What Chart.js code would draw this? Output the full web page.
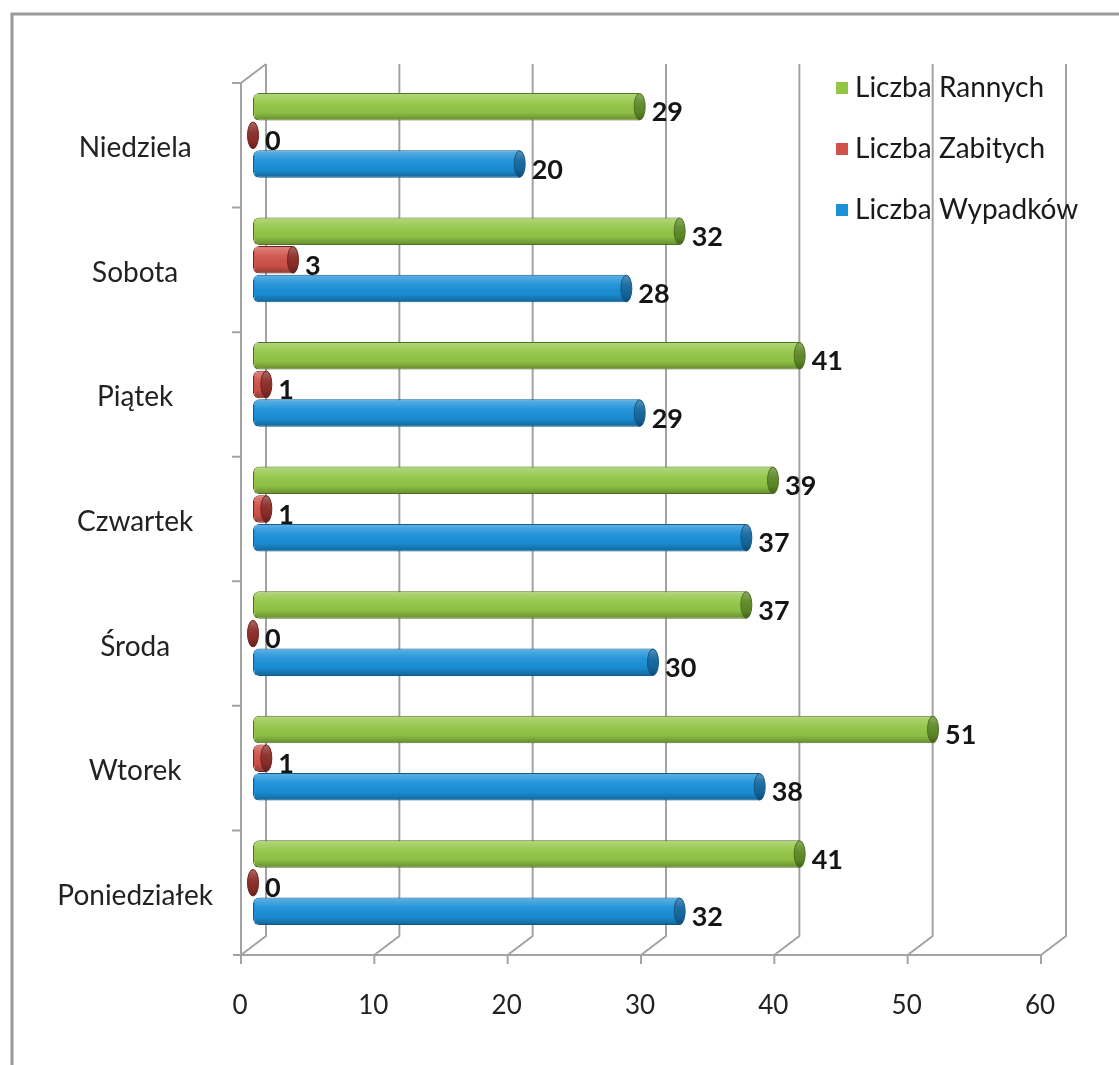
<!DOCTYPE html>
<html>
<head>
<meta charset="utf-8">
<script src="https://cdn.jsdelivr.net/npm/chart.js@4.4.0/dist/chart.umd.min.js"></script>
<style>
  html, body { margin: 0; padding: 0; background: #fff; }
  #wrap { width: 1119px; height: 1065px; }
</style>
</head>
<body>
<div id="wrap"><canvas id="accidents"></canvas></div>
<script>
// days listed top to bottom, as in the picture
const days = ['Niedziela', 'Sobota', 'Piątek', 'Czwartek', 'Środa', 'Wtorek', 'Poniedziałek'];
const ranni = [29, 32, 41, 39, 37, 51, 41];
const zabici = [0, 3, 1, 1, 0, 1, 0];
const wypadki = [20, 28, 29, 37, 30, 38, 32];
const xTicks = [0, 10, 20, 30, 40, 50, 60];

const FONT = 'Lato, "Open Sans", sans-serif';
const palette = [
  { main: '#93c647', dark: '#5e8a26', edge: '#4f6f24' },
  { main: '#d0524a', dark: '#8c2d28', edge: '#6e2420' },
  { main: '#1b90d8', dark: '#14679f', edge: '#125a8a' },
];

// depth offsets of the fake 3D box, relative to the scale pixels
const BACK = { dx: 13, dy: -9 };
const FRONT = { dx: -12, dy: 10 };

const frame = {
  id: 'frame',
  beforeDraw(chart) {
    const ctx = chart.ctx;
    ctx.save();
    ctx.strokeStyle = '#9a9a9a';
    ctx.lineWidth = 3;
    ctx.beginPath();
    ctx.moveTo(12, chart.height);
    ctx.lineTo(12, 14);
    ctx.lineTo(chart.width, 14);
    ctx.stroke();
    ctx.restore();
  },
  beforeDatasetsDraw(chart) {
    const { ctx, chartArea: a, scales: { x, y } } = chart;
    const band = (a.bottom - a.top) / days.length;
    ctx.save();
    ctx.strokeStyle = '#a3a3a3';
    ctx.lineWidth = 2;
    ctx.beginPath();
    xTicks.forEach(v => {
      const px = x.getPixelForValue(v);
      // back wall line
      ctx.moveTo(px + BACK.dx, a.top + BACK.dy);
      ctx.lineTo(px + BACK.dx, a.bottom + BACK.dy);
      // floor diagonal
      ctx.lineTo(px + FRONT.dx, a.bottom + FRONT.dy);
      // tick mark
      ctx.moveTo(px + FRONT.dx, a.bottom + FRONT.dy);
      ctx.lineTo(px + FRONT.dx, a.bottom + FRONT.dy + 9);
    });
    const x0 = x.getPixelForValue(0);
    const x60 = x.getPixelForValue(60);
    // front floor edge
    ctx.moveTo(x0 + FRONT.dx - 8, a.bottom + FRONT.dy);
    ctx.lineTo(x60 + FRONT.dx, a.bottom + FRONT.dy);
    // front left edge with category ticks
    ctx.moveTo(x0 + FRONT.dx, a.bottom + FRONT.dy);
    ctx.lineTo(x0 + FRONT.dx, a.top + FRONT.dy);
    ctx.lineTo(x0 + BACK.dx, a.top + BACK.dy);
    for (let i = 0; i < days.length; i++) {
      const yy = y.getPixelForValue(i) - band / 2 + FRONT.dy;
      ctx.moveTo(x0 + FRONT.dx, yy);
      ctx.lineTo(x0 + FRONT.dx - 9, yy);
    }
    ctx.stroke();
    ctx.restore();
  },
  afterDatasetsDraw(chart) {
    const ctx = chart.ctx;
    ctx.save();
    chart.data.datasets.forEach((ds, di) => {
      const meta = chart.getDatasetMeta(di);
      const col = palette[di];
      meta.data.forEach((el, i) => {
        const h = el.height;
        const top = el.y - h / 2;
        // cylinder shading over the bar body
        const g = ctx.createLinearGradient(0, top, 0, top + h);
        g.addColorStop(0, 'rgba(255,255,255,0.30)');
        g.addColorStop(0.35, 'rgba(255,255,255,0.06)');
        g.addColorStop(0.7, 'rgba(0,0,0,0.03)');
        g.addColorStop(1, 'rgba(0,0,0,0.30)');
        if (el.x - el.base > 1) {
          ctx.fillStyle = g;
          ctx.fillRect(el.base + 2, top + 1, el.x - el.base - 2, h - 2);
        }
        // end cap
        ctx.beginPath();
        ctx.ellipse(el.x, el.y, 5.5, h / 2 - 0.5, 0, 0, Math.PI * 2);
        ctx.fillStyle = col.dark;
        ctx.fill();
        ctx.fillStyle = g;
        ctx.fill();
        ctx.strokeStyle = col.edge;
        ctx.lineWidth = 1;
        ctx.stroke();
        // value label
        ctx.fillStyle = '#151515';
        ctx.font = 'bold 27px ' + FONT;
        ctx.textAlign = 'left';
        ctx.textBaseline = 'middle';
        ctx.fillText(String(ds.data[i]), el.x + 12, el.y + 6);
      });
    });
    ctx.restore();
  },
  afterDraw(chart) {
    const { ctx, chartArea: a } = chart;
    ctx.save();
    ctx.font = '28px ' + FONT;
    ctx.textAlign = 'left';
    ctx.textBaseline = 'middle';
    chart.data.datasets.forEach((ds, di) => {
      const lx = a.right - 217;
      const ly = a.top + 15 + di * 61;
      ctx.fillStyle = palette[di].main;
      ctx.fillRect(lx, ly - 6, 12, 12);
      ctx.fillStyle = '#1a1a1a';
      ctx.fillText(ds.label, lx + 19, ly);
    });
    ctx.restore();
  },
};

function barSet(label, data, di) {
  return {
    label: label,
    data: data,
    backgroundColor: palette[di].main,
    borderColor: palette[di].edge,
    borderWidth: 1,
    borderRadius: { topLeft: 6, bottomLeft: 6, topRight: 0, bottomRight: 0 },
    borderSkipped: false,
    barPercentage: 0.96,
    categoryPercentage: 0.69,
  };
}

new Chart(document.getElementById('accidents'), {
  type: 'bar',
  data: {
    labels: days,
    datasets: [
      barSet('Liczba Rannych', ranni, 0),
      barSet('Liczba Zabitych', zabici, 1),
      barSet('Liczba Wypadków', wypadki, 2),
    ],
  },
  options: {
    indexAxis: 'y',
    responsive: true,
    maintainAspectRatio: false,
    animation: false,
    layout: { padding: { top: 73, left: 30, right: 66, bottom: 0 } },
    plugins: {
      legend: { display: false },
      tooltip: { enabled: false },
    },
    scales: {
      x: {
        min: 0,
        max: 60,
        afterBuildTicks: (s) => { s.ticks = xTicks.map(v => ({ value: v })); },
        grid: { display: false, drawTicks: false },
        border: { display: false },
        ticks: {
          color: '#222',
          font: { family: FONT, size: 26 },
          padding: 45,
          labelOffset: -13,
          maxRotation: 0,
        },
        afterFit: (s) => { s.height = 120; },
      },
      y: {
        grid: { display: false, drawTicks: false },
        border: { display: false },
        ticks: {
          color: '#222',
          font: { family: FONT, size: 28 },
          padding: 40,
          crossAlign: 'center',
          labelOffset: 13,
        },
        afterFit: (s) => { s.width = 223; },
      },
    },
  },
  plugins: [frame],
});
</script>
</body>
</html>
